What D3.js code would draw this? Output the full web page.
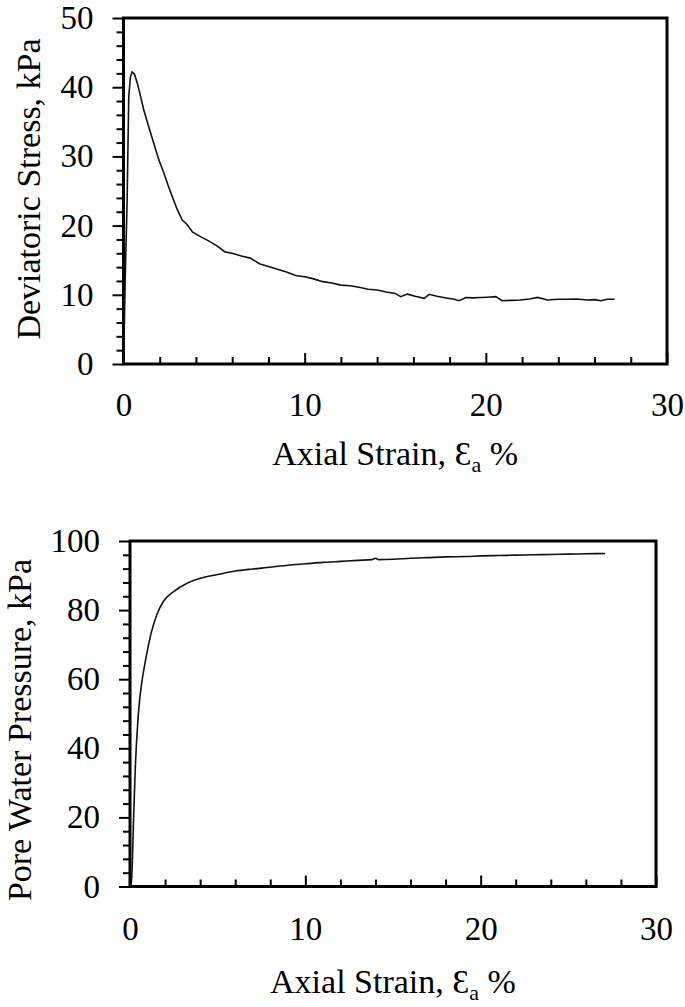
<!DOCTYPE html>
<html>
<head>
<meta charset="utf-8">
<script src="https://cdn.jsdelivr.net/npm/d3@7"></script>
<style>
  body { margin: 0; background: #fff; }
</style>
</head>
<body>
<div id="chart"></div>
<script>
// axial strain (%) and deviatoric stress (kPa)
var strainQ = [0, 0.05, 0.1, 0.2, 0.29, 0.38, 0.48, 0.6, 0.76, 0.95, 1.12, 1.4, 1.67, 1.95, 2.23, 2.45, 2.69, 2.97, 3.1, 3.24, 3.5, 3.8, 4.25, 4.7, 5.2, 5.6, 6.0, 6.5, 7.0, 7.5, 8.0, 8.5, 9.0, 9.5, 10, 10.5, 11, 11.5, 12, 12.5, 13, 13.5, 14, 14.5, 15, 15.3, 15.67, 16.1, 16.6, 16.87, 17.3, 17.88, 18.2, 18.53, 18.9, 19.3, 19.7, 20.1, 20.55, 20.9, 21.4, 21.9, 22.4, 22.86, 23.4, 24.0, 24.5, 25.0, 25.6, 26.0, 26.35, 26.7, 27.1];
var devStress = [0, 6, 13, 23.7, 38.6, 41.5, 42.2, 41.9, 40.6, 38.6, 36.7, 34.2, 31.9, 29.5, 27.6, 25.9, 24.2, 22.3, 21.6, 20.8, 20.2, 19.1, 18.4, 17.8, 17.0, 16.2, 16.0, 15.6, 15.3, 14.5, 14.1, 13.7, 13.3, 12.8, 12.6, 12.3, 11.9, 11.7, 11.4, 11.3, 11.1, 10.8, 10.7, 10.4, 10.2, 9.73, 10.1, 9.8, 9.49, 10.07, 9.8, 9.49, 9.4, 9.15, 9.6, 9.55, 9.6, 9.65, 9.73, 9.15, 9.2, 9.25, 9.4, 9.63, 9.25, 9.35, 9.35, 9.4, 9.25, 9.3, 9.15, 9.35, 9.35];

// axial strain (%) and pore water pressure (kPa), bottom plot
var strainU = [0, 0.05, 0.1, 0.2, 0.3, 0.45, 0.55, 0.7, 0.85, 1.0, 1.24, 1.52, 1.9, 2.47, 3.23, 4.0, 5, 6, 7, 8, 9, 10, 11, 12, 13, 13.8, 14, 14.2, 15, 16, 17, 18, 19.2, 20, 21, 22, 23, 24, 25, 26, 27.1];
var poreP = [0, 0.5, 2.7, 19, 34, 48, 54, 60, 64.5, 68.5, 74, 78.5, 82.5, 85.3, 87.7, 89.2, 90.3, 91.3, 91.9, 92.4, 93, 93.4, 93.8, 94.1, 94.4, 94.6, 95.0, 94.6, 94.7, 95, 95.2, 95.4, 95.5, 95.7, 95.8, 95.9, 96, 96.1, 96.2, 96.3, 96.4];

var xMajor = [0, 10, 20, 30];
var xMinor = [2, 4, 6, 8, 12, 14, 16, 18, 22, 24, 26, 28];
var yMajorQ = [0, 10, 20, 30, 40, 50];
var yMinorQ = d3.range(2, 50, 2).filter(d => d % 10 != 0);
var yMajorU = [0, 20, 40, 60, 80, 100];
var yMinorU = d3.range(4, 100, 4).filter(d => d % 20 != 0);

var w = 685, h = 1007;

// pick the first serif face that is actually installed
function pickSerif() {
  var ctx = document.createElement('canvas').getContext('2d');
  var probe = 'Deviatoric Stress, kPa 0123456789 WMil';
  function width(f) { ctx.font = '40px ' + f; return ctx.measureText(probe).width; }
  var base1 = width('monospace'), base2 = width('sans-serif');
  var names = ['Liberation Serif', 'Times New Roman', 'Tinos', 'DejaVu Serif', 'Noto Serif', 'FreeSerif', 'Nimbus Roman', 'serif'];
  for (var i = 0; i < names.length; i++) {
    var f = names[i] == 'serif' ? 'serif' : '"' + names[i] + '", monospace';
    var f2 = names[i] == 'serif' ? 'serif' : '"' + names[i] + '", sans-serif';
    var a = width(f), b = width(f2);
    if (a == b && a != base1 && a != base2) return names[i] == 'serif' ? 'serif' : '"' + names[i] + '", serif';
  }
  return 'serif';
}
var serif = pickSerif();

var svg = d3.select('#chart')
  .append('svg')
    .attr('width', w)
    .attr('height', h);

function panel(p) {
  var x = d3.scaleLinear().domain([0, 30]).range([p.left, p.right]);
  var y = d3.scaleLinear().domain([0, p.ymax]).range([p.bottom, p.top]);
  var g = svg.append('g');

  // y ticks, outward
  g.append('g')
      .attr('transform', 'translate(' + p.left + ',0)')
      .call(d3.axisLeft(y).tickValues(p.yMinor).tickSize(7).tickFormat(''))
      .call(a => a.select('.domain').remove());
  g.append('g')
      .attr('transform', 'translate(' + p.left + ',0)')
      .call(d3.axisLeft(y).tickValues(p.yMajor).tickSize(11).tickPadding(19))
      .call(a => a.select('.domain').remove());

  // x ticks, inward
  g.append('g')
      .attr('transform', 'translate(0,' + p.bottom + ')')
      .call(d3.axisBottom(x).tickValues(xMinor).tickSize(-7).tickFormat(''))
      .call(a => a.select('.domain').remove());
  g.append('g')
      .attr('transform', 'translate(0,' + p.bottom + ')')
      .call(d3.axisBottom(x).tickValues(xMajor).tickSize(-11).tickPadding(p.xpad))
      .call(a => a.select('.domain').remove());

  g.selectAll('.tick line').attr('stroke', '#000').attr('stroke-width', 2);
  g.selectAll('.tick text')
      .attr('fill', '#000')
      .style('font-family', serif)
      .style('font-size', '33px');

  // frame
  g.append('rect')
      .attr('x', p.left)
      .attr('y', p.top)
      .attr('width', p.right - p.left)
      .attr('height', p.bottom - p.top)
      .attr('fill', 'none')
      .attr('stroke', '#000')
      .attr('stroke-width', 3);

  var line = d3.line()
      .x(d => x(d[0]))
      .y(d => y(d[1]))
      .curve(p.curve);

  g.append('path')
      .datum(d3.zip(p.xs, p.ys))
      .attr('d', line)
      .attr('fill', 'none')
      .attr('stroke', '#111')
      .attr('stroke-width', 1.6);

  var xt = g.append('text')
      .attr('x', (p.left + p.right) / 2)
      .attr('y', p.xtitleY)
      .attr('text-anchor', 'middle')
      .style('font-family', serif)
      .style('font-size', '34px');
  xt.append('tspan').text('Axial Strain, \u0190');
  xt.append('tspan').attr('dy', 7).style('font-size', '22px').text('a');
  xt.append('tspan').attr('dy', -7).text(' %');

  g.append('text')
      .attr('transform', 'translate(' + p.ytitleX + ',' + p.ytitleY + ') rotate(-90)')
      .attr('text-anchor', 'middle')
      .style('font-family', serif)
      .style('font-size', '34px')
      .text(p.ytitle);
}

panel({
  left: 123.5, right: 667, top: 18, bottom: 364, ymax: 50,
  yMajor: yMajorQ, yMinor: yMinorQ, xpad: 29,
  xs: strainQ, ys: devStress, curve: d3.curveLinear,
  xtitleY: 465, ytitleX: 40, ytitleY: 189,
  ytitle: 'Deviatoric Stress, kPa'
});

panel({
  left: 130, right: 656, top: 541, bottom: 886.5, ymax: 100,
  yMajor: yMajorU, yMinor: yMinorU, xpad: 30,
  xs: strainU, ys: poreP, curve: d3.curveMonotoneX,
  xtitleY: 993, ytitleX: 31, ytitleY: 730,
  ytitle: 'Pore Water Pressure, kPa'
});
</script>
</body>
</html>
